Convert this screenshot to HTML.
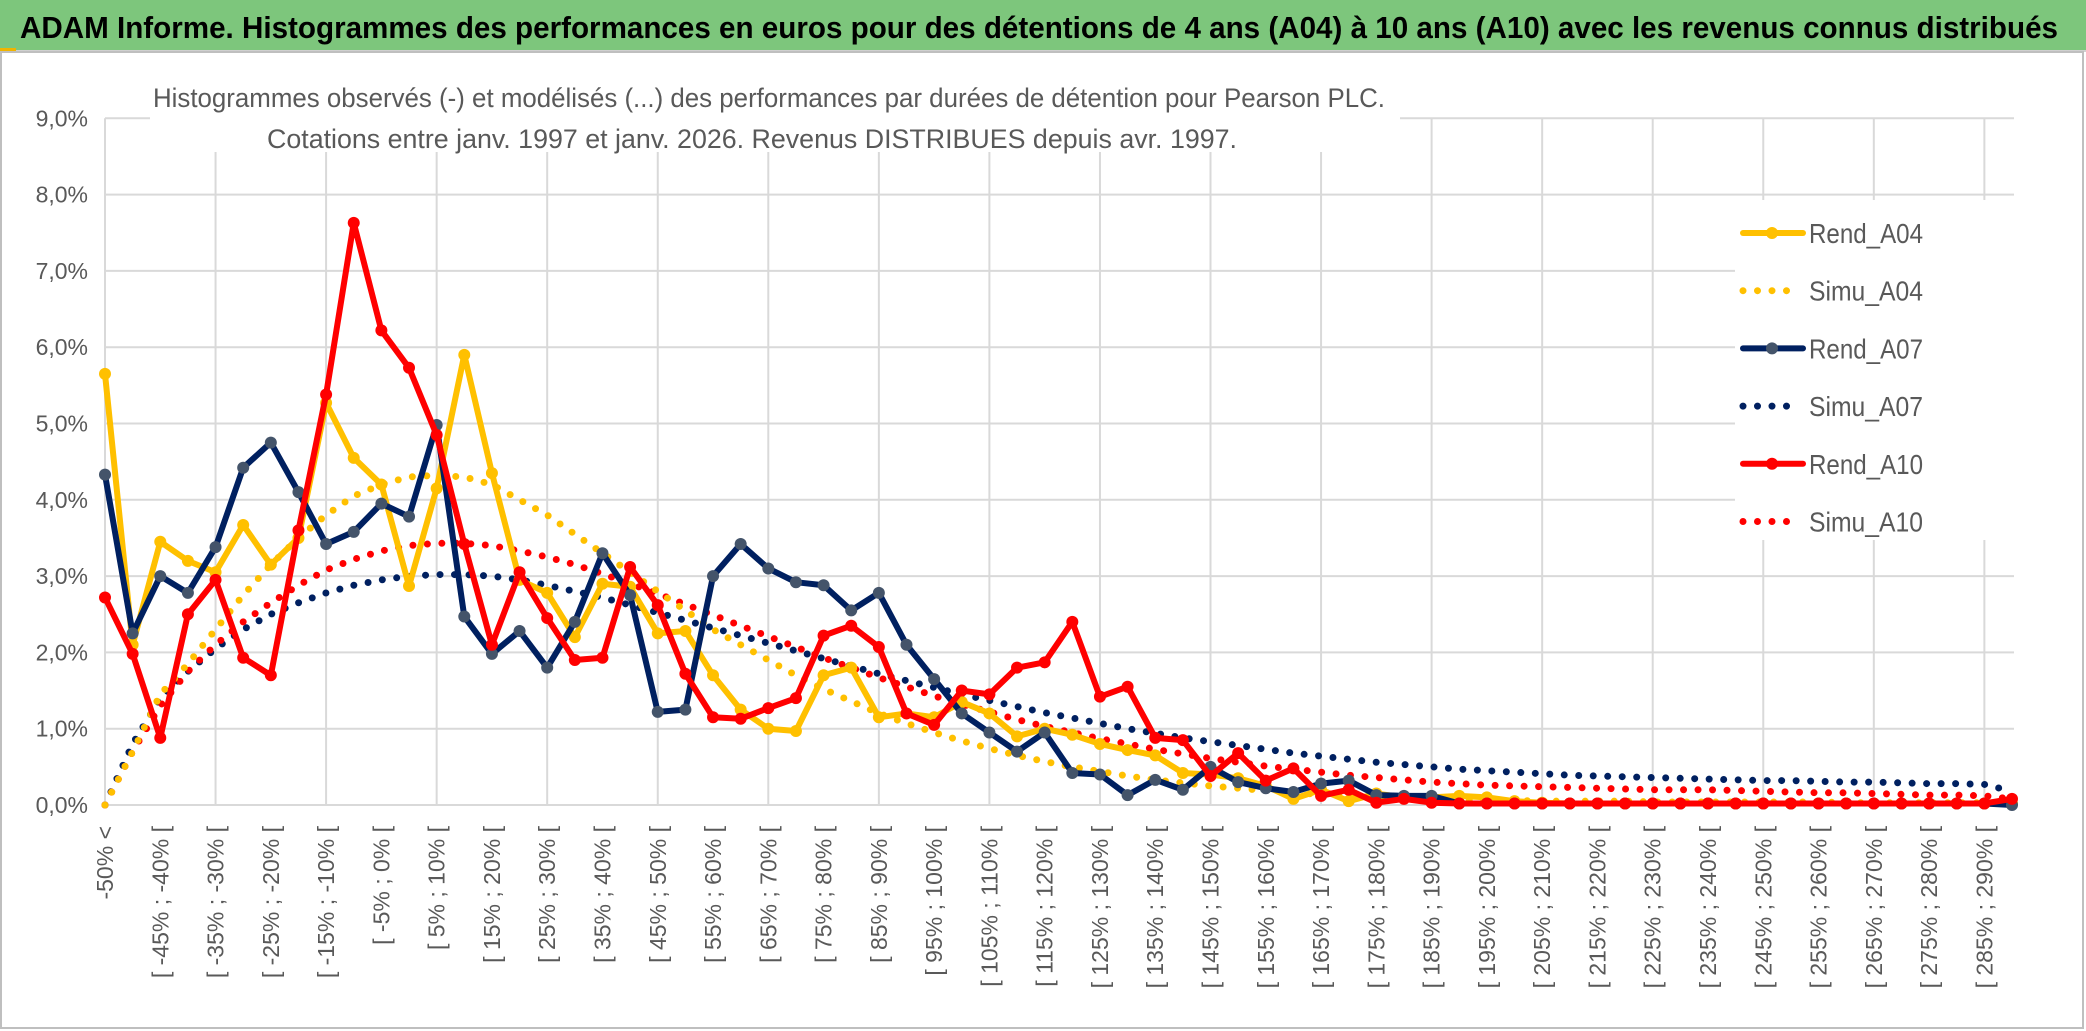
<!DOCTYPE html>
<html><head><meta charset="utf-8"><style>
html,body{margin:0;padding:0;background:#fff;}
svg{display:block;font-family:"Liberation Sans Narrow","Liberation Sans",sans-serif;}
</style></head><body>
<svg id="chart" width="2086" height="1031" viewBox="0 0 2086 1031" xmlns="http://www.w3.org/2000/svg">
<rect x="0" y="0" width="2086" height="1031" fill="#fff"/>
<rect x="0" y="0" width="2086" height="50" fill="#7dc67c"/>
<line x1="0" y1="51" x2="2086" y2="51" stroke="#d0d0d0" stroke-width="2"/>
<rect x="0" y="48" width="16" height="4" fill="#f0b400"/>
<text x="20" y="38" font-size="31" font-weight="bold" fill="#000" textLength="2038" lengthAdjust="spacingAndGlyphs">ADAM Informe. Histogrammes des performances en euros pour des détentions de 4 ans (A04) à 10 ans (A10) avec les revenus connus distribués</text>
<rect x="1" y="52" width="2082" height="976" fill="none" stroke="#bfbfbf" stroke-width="2"/>
<g id="grid"></g>
<g id="ylabels"></g>
<g id="xlabels"></g>
<rect x="150" y="72" width="1250" height="80" fill="#fff"/>
<text x="153" y="107" font-size="27" fill="#595959" textLength="1232" lengthAdjust="spacingAndGlyphs">Histogrammes observés (-) et modélisés (...) des performances par durées de détention pour Pearson PLC.</text>
<text x="267" y="148" font-size="27" fill="#595959" textLength="970" lengthAdjust="spacingAndGlyphs">Cotations entre janv. 1997 et janv. 2026. Revenus DISTRIBUES depuis avr. 1997.</text>
<g id="series"></g>
<g id="legend"></g>
</svg>
<script>
const categories = ["-50% <"];
for (let a = -50; a < 295; a += 5) categories.push("[ " + a + "% ; " + (a + 5) + "% [");
const yTicks = [0,1,2,3,4,5,6,7,8,9];
const yTickLabels = ["0,0%","1,0%","2,0%","3,0%","4,0%","5,0%","6,0%","7,0%","8,0%","9,0%"];
const rendA04 = [5.65,2.1,3.45,3.2,3.05,3.67,3.15,3.5,5.27,4.55,4.2,2.87,4.15,5.9,4.35,2.95,2.78,2.2,2.9,2.86,2.25,2.28,1.7,1.25,1.0,0.97,1.7,1.8,1.15,1.2,1.15,1.35,1.2,0.9,1.0,0.92,0.8,0.72,0.65,0.42,0.4,0.35,0.25,0.08,0.2,0.05,0.15,0.1,0.1,0.12,0.1,0.05,0.03,0.02,0.02,0.02,0.02,0.02,0.02,0.02,0.02,0.02,0.02,0.02,0.02,0.02,0.02,0.02,0.02,0.02];
const simuA04 = [0,0.7,1.45,1.85,2.3,2.75,3.15,3.5,3.8,4.05,4.2,4.3,4.32,4.3,4.2,4.0,3.8,3.55,3.3,3.05,2.8,2.55,2.3,2.1,1.9,1.7,1.52,1.36,1.2,1.07,0.95,0.84,0.74,0.65,0.57,0.5,0.44,0.38,0.33,0.29,0.25,0.22,0.19,0.16,0.14,0.12,0.1,0.09,0.08,0.07,0.06,0.06,0.05,0.05,0.05,0.05,0.04,0.04,0.04,0.04,0.04,0.04,0.04,0.03,0.03,0.03,0.03,0.03,0.03,0.02];
const rendA07 = [4.33,2.25,3.0,2.78,3.38,4.42,4.75,4.1,3.42,3.58,3.95,3.78,4.98,2.47,1.98,2.28,1.8,2.4,3.3,2.75,1.22,1.25,3.0,3.42,3.1,2.92,2.88,2.55,2.78,2.1,1.65,1.2,0.95,0.7,0.95,0.42,0.4,0.13,0.33,0.2,0.5,0.3,0.22,0.17,0.28,0.32,0.13,0.12,0.12,0.02,0.02,0.02,0.02,0.02,0.02,0.02,0.02,0.02,0.02,0.02,0.02,0.02,0.02,0.02,0.02,0.02,0.02,0.02,0.02,0.0];
const simuA07 = [0,0.8,1.4,1.75,2.05,2.3,2.5,2.65,2.78,2.88,2.95,3.0,3.02,3.02,3.0,2.95,2.88,2.8,2.72,2.62,2.52,2.42,2.32,2.22,2.12,2.02,1.92,1.82,1.72,1.63,1.54,1.45,1.37,1.29,1.21,1.14,1.07,1.0,0.94,0.88,0.83,0.78,0.73,0.68,0.64,0.6,0.56,0.53,0.5,0.47,0.45,0.43,0.41,0.39,0.38,0.37,0.36,0.35,0.34,0.33,0.32,0.32,0.31,0.3,0.3,0.29,0.28,0.28,0.27,0.18];
const rendA10 = [2.72,1.98,0.88,2.5,2.95,1.93,1.7,3.6,5.38,7.63,6.22,5.73,4.85,3.42,2.1,3.05,2.45,1.9,1.93,3.12,2.62,1.72,1.15,1.13,1.27,1.4,2.22,2.35,2.07,1.2,1.05,1.5,1.45,1.8,1.87,2.4,1.42,1.55,0.88,0.85,0.38,0.68,0.32,0.48,0.12,0.2,0.03,0.08,0.03,0.02,0.02,0.02,0.02,0.02,0.02,0.02,0.02,0.02,0.02,0.02,0.02,0.02,0.02,0.02,0.02,0.02,0.02,0.02,0.02,0.08];
const simuA10 = [0,0.7,1.3,1.75,2.1,2.4,2.65,2.88,3.08,3.22,3.33,3.4,3.43,3.43,3.4,3.33,3.25,3.15,3.03,2.9,2.77,2.63,2.49,2.35,2.21,2.07,1.93,1.8,1.67,1.55,1.43,1.32,1.22,1.12,1.03,0.95,0.87,0.8,0.73,0.67,0.61,0.56,0.51,0.47,0.43,0.39,0.36,0.33,0.3,0.28,0.26,0.25,0.24,0.23,0.22,0.21,0.2,0.2,0.2,0.19,0.18,0.17,0.16,0.16,0.15,0.14,0.13,0.13,0.12,0.08];

const NS = "http://www.w3.org/2000/svg";
const X0 = 105, X1 = 2012, Y0 = 805, PX_PER = 76.3;
const xPos = i => X0 + i * (X1 - X0) / (categories.length - 1);
const yPos = v => Y0 - v * PX_PER;
function mk(tag, attrs, parent) {
  const e = document.createElementNS(NS, tag);
  for (const k in attrs) e.setAttribute(k, attrs[k]);
  parent.appendChild(e);
  return e;
}
const grid = document.getElementById('grid');
yTicks.forEach((t, k) => {
  const l = mk('line', {x1: X0, x2: X1 + 2, y1: yPos(t), y2: yPos(t), stroke: '#d9d9d9', 'stroke-width': 2}, grid);
  
  
  const tx = mk('text', {x: 88, y: yPos(t) + 8, 'text-anchor': 'end', 'font-size': 23, fill: '#595959'}, document.getElementById('ylabels'));
  tx.textContent = yTickLabels[k];
  
  
});
for (let i = 0; i < categories.length; i += 4) {
  const l = mk('line', {x1: xPos(i), x2: xPos(i), y1: yPos(9), y2: Y0, stroke: '#d9d9d9', 'stroke-width': 2}, grid);
  
  
}
for (let i = 0; i < categories.length; i += 2) {
  const x = xPos(i) + 8;
  const tx = mk('text', {x: x, y: 826, 'text-anchor': 'end', 'font-size': 23, fill: '#595959', transform: 'rotate(-90 ' + x + ' 826)'}, document.getElementById('xlabels'));
  tx.textContent = categories[i];
  
  
}
const series = document.getElementById('series');
function drawSim(vals, color, name) {
  const p = mk('polyline', {points: vals.map((v, i) => xPos(i) + ',' + yPos(v)).join(' '), fill: 'none', stroke: color, 'stroke-width': 7, 'stroke-linecap': 'round', 'stroke-dasharray': '0 14.5'}, series);
  
  
}
function drawRend(vals, color, mcol, name) {
  const g = mk('g', {}, series);
  
  
  mk('polyline', {points: vals.map((v, i) => xPos(i) + ',' + yPos(v)).join(' '), fill: 'none', stroke: color, 'stroke-width': 6, 'stroke-linejoin': 'round'}, g);
  vals.forEach((v, i) => {
    const c = mk('circle', {cx: xPos(i), cy: yPos(v), r: 6, fill: mcol}, g);
    
    
  });
}
drawSim(simuA07, '#002060', 'simu-a07-line');
drawSim(simuA10, '#ff0000', 'simu-a10-line');
drawSim(simuA04, '#ffc000', 'simu-a04-line');
drawRend(rendA04, '#ffc000', '#ffc000', 'rend-a04-line');
drawRend(rendA07, '#002060', '#44546a', 'rend-a07-line');
drawRend(rendA10, '#ff0000', '#ff0000', 'rend-a10-line');

const legendNames = ["Rend_A04","Simu_A04","Rend_A07","Simu_A07","Rend_A10","Simu_A10"];
const legendColors = ["#ffc000","#ffc000","#002060","#002060","#ff0000","#ff0000"];
const legend = document.getElementById('legend');
mk('rect', {x: 1735, y: 200, width: 290, height: 340, fill: '#fff'}, legend);
legendNames.forEach((n, k) => {
  const y = 233 + k * 57.7;
  const g = mk('g', {}, legend);
  
  
  if (k % 2 === 0) {
    mk('line', {x1: 1743, x2: 1803, y1: y, y2: y, stroke: legendColors[k], 'stroke-width': 6, 'stroke-linecap': 'round'}, g);
    mk('circle', {cx: 1772, cy: y, r: 6, fill: k === 2 ? '#44546a' : legendColors[k]}, g);
  } else {
    mk('line', {x1: 1743, x2: 1800, y1: y, y2: y, stroke: legendColors[k], 'stroke-width': 7, 'stroke-linecap': 'round', 'stroke-dasharray': '0 14.5'}, g);
  }
  const t = mk('text', {x: 1809, y: y + 10, 'font-size': 28, fill: '#595959', textLength: 114, lengthAdjust: 'spacingAndGlyphs'}, g);
  t.textContent = n;
});
</script>
</body></html>
